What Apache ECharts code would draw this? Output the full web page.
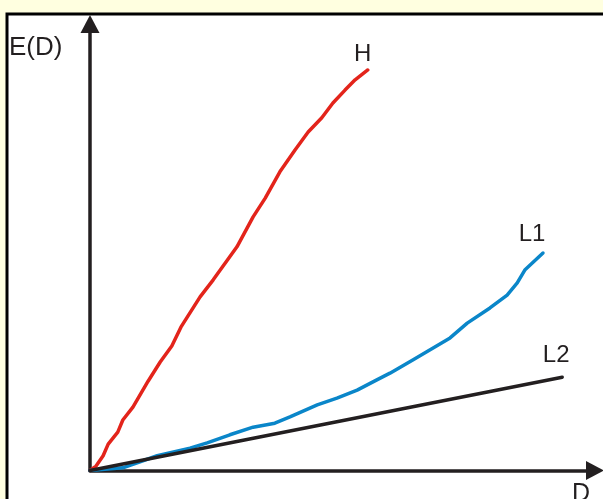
<!DOCTYPE html>
<html>
<head>
<meta charset="utf-8">
<script src="https://cdn.jsdelivr.net/npm/echarts@6/dist/echarts.min.js"></script>
<style>
  html, body { margin: 0; padding: 0; background: #ffffe0; }
  #chart { width: 603px; height: 499px; }
</style>
</head>
<body>
<div id="chart"></div>
<script>
// Expected value E(D) against D for three curves (arbitrary units, 0-100)
const seriesNames = ['H', 'L1', 'L2'];

const hD = [0, 1.2, 2.6, 3.6, 5.5, 6.5, 8.5, 11.5, 13.9, 16.2, 18.0, 21.8, 24.4, 29.1, 32.3, 34.7, 37.6, 40.6, 43.2, 45.9, 48.1, 50.5, 52.5, 55.0];
const hE = [0, 1.0, 3.3, 5.9, 8.6, 11.3, 14.2, 20.0, 24.3, 27.9, 32.1, 38.9, 42.7, 50.1, 56.8, 61.0, 66.9, 71.8, 75.8, 79.0, 82.3, 85.2, 87.5, 89.7];

const l1D = [0, 6.5, 13.3, 19.8, 23.2, 27.7, 32.3, 36.6, 39.6, 45.0, 48.9, 52.9, 56.8, 59.4, 64.0, 71.3, 74.7, 79.2, 82.6, 84.6, 86.1, 89.7];
const l1E = [0, 0.6, 3.3, 5.0, 6.2, 8.0, 9.7, 10.6, 12.0, 14.7, 16.2, 18.0, 20.3, 21.8, 24.8, 29.7, 33.0, 36.4, 39.3, 42.0, 44.9, 48.7];

const l2D = [0, 93.5];
const l2E = [0, 20.9];

const axisNames = { x: 'D', y: 'E(D)' };

const colors = { H: '#e3241b', L1: '#0a86c9', L2: '#231f20' };
const ink = '#231f20';
const font = '"Liberation Sans", Arial, sans-serif';

const pairs = (xs, ys) => xs.map((x, i) => [x, ys[i]]);
const curves = { H: pairs(hD, hE), L1: pairs(l1D, l1E), L2: pairs(l2D, l2E) };

const chart = echarts.init(document.getElementById('chart'), null, { renderer: 'canvas' });

const axisCommon = {
  type: 'value',
  min: 0,
  max: 100,
  axisTick: { show: false },
  axisLabel: { show: false },
  splitLine: { show: false },
  axisLine: {
    show: true,
    symbol: ['none', 'triangle'],
    symbolSize: [19, 18],
    lineStyle: { color: ink, width: 3.5 }
  }
};

chart.setOption({
  animation: false,
  backgroundColor: '#ffffe0',
  grid: { left: 90, right: 8, top: 24, bottom: 28.5, containLabel: false },
  xAxis: Object.assign({}, axisCommon),
  yAxis: Object.assign({}, axisCommon),
  series: seriesNames.map(name => ({
    name,
    type: 'line',
    data: curves[name],
    showSymbol: false,
    smooth: false,
    lineStyle: { color: colors[name], width: 3.5, cap: 'round', join: 'round' },
    z: name === 'L2' ? 4 : 3
  }))
});

// Curve names placed near the end of each curve
const nameOffsets = { H: [-5, -16], L1: [-11, -19], L2: [-6, -22] };
const graphics = [
  {
    type: 'rect',
    silent: true,
    z: -10,
    shape: { x: 7, y: 14, width: 700, height: 600 },
    style: { fill: '#ffffff', stroke: '#000000', lineWidth: 3 }
  },
  {
    type: 'text',
    left: 9, top: 35,
    style: { text: axisNames.y, fontFamily: font, fontSize: 26, fill: ink }
  },
  {
    type: 'text',
    left: 572, top: 482,
    style: { text: axisNames.x, fontFamily: font, fontSize: 25, fill: ink }
  }
];
seriesNames.forEach(name => {
  const pts = curves[name];
  const p = chart.convertToPixel({ gridIndex: 0 }, pts[pts.length - 1]);
  const off = nameOffsets[name];
  graphics.push({
    type: 'text',
    x: p[0] + off[0],
    y: p[1] + off[1],
    style: {
      text: name, fontFamily: font, fontSize: 24, fill: ink,
      align: 'center', verticalAlign: 'middle'
    }
  });
});
chart.setOption({ graphic: graphics });
</script>
</body>
</html>
